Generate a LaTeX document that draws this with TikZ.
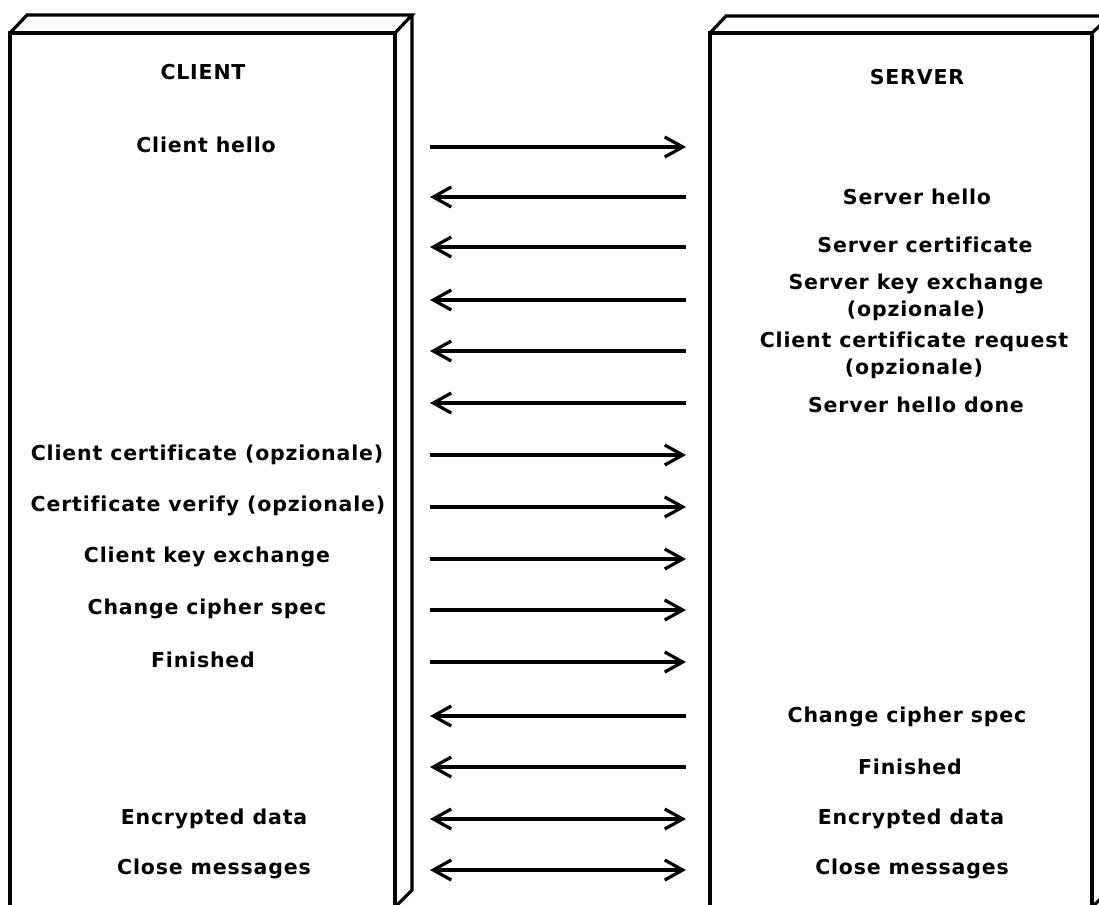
\documentclass[tikz,border=0pt]{standalone}
\usepackage{fontspec}
\setmainfont{DejaVu Sans}[BoldFont={DejaVu Sans Bold},LetterSpace=4,Ligatures=CommonOff]
\usetikzlibrary{arrows.meta}
\begin{document}
\begin{tikzpicture}[x=1pt,y=-1pt,
  box/.style={line width=3.2pt,line join=miter},
  lbl/.style={font=\fontsize{20.5}{27}\selectfont\bfseries,align=center,inner sep=0pt},
  msg/.style={line width=3.2pt,-{Straight Barb[length=18pt,width=20pt,line width=3.2pt]}},
  both/.style={line width=3.2pt,{Straight Barb[length=18pt,width=20pt,line width=3.2pt]}-{Straight Barb[length=18pt,width=20pt,line width=3.2pt]}}]
\useasboundingbox (0,0) rectangle (1099,904);
\clip (0,0) rectangle (1099,904);

% client block
\draw[box] (10,910) -- (10,33) -- (395,33) -- (395,910);
\draw[box] (10,33) -- (27,15) -- (412,15) -- (395,33);
\draw[box] (412,15) -- (412,890) -- (395,907);

% server block
\draw[box] (710,910) -- (710,33) -- (1092,33) -- (1092,910);
\draw[box] (710,33) -- (726,16) -- (1110,16) -- (1092,33);
\draw[box] (1110,16) -- (1110,890) -- (1092,907);

% headings
\node[lbl] (client) at (203,72) {CLIENT};
\node[lbl] (server) at (917,77) {SERVER};

% client-side messages
\node[lbl] (c1) at (206,145) {Client hello};
\node[lbl] (c2) at (207,455) {Client certificate (opzionale)};
\node[lbl] (c3) at (208,506) {Certificate verify (opzionale)};
\node[lbl] (c4) at (207,557) {Client key exchange};
\node[lbl] (c5) at (207,609) {Change cipher spec};
\node[lbl] (c6) at (203,660) {Finished};
\node[lbl] (c7) at (214,819) {Encrypted data};
\node[lbl] (c8) at (214,869) {Close messages};

% server-side messages
\node[lbl] (s1) at (917,197) {Server hello};
\node[lbl] (s2) at (925,245) {Server certificate};
\node[lbl] (s3) at (916,297) {Server key exchange\\(opzionale)};
\node[lbl] (s4) at (914,355) {Client certificate request\\(opzionale)};
\node[lbl] (s5) at (916,405) {Server hello done};
\node[lbl] (s6) at (907,717) {Change cipher spec};
\node[lbl] (s7) at (910,767) {Finished};
\node[lbl] (s8) at (911,819) {Encrypted data};
\node[lbl] (s9) at (912,869) {Close messages};

% arrow end points
\foreach \n/\y in {1/147,2/197,3/247,4/300,5/351,6/403,7/455,8/507,9/559,10/610,11/662,12/716,13/767,14/819,15/870}{
  \coordinate (L\n) at (430,\y);
  \coordinate (R\n) at (686,\y);
}

% client to server
\draw[msg] (L1) -- (R1);
\foreach \n in {7,8,9,10,11}{\draw[msg] (L\n) -- (R\n);}
% server to client
\foreach \n in {2,3,4,5,6,12,13}{\draw[msg] (R\n) -- (L\n);}
% both directions
\draw[both] (L14) -- (R14);
\draw[both] (L15) -- (R15);
\end{tikzpicture}
\end{document}
